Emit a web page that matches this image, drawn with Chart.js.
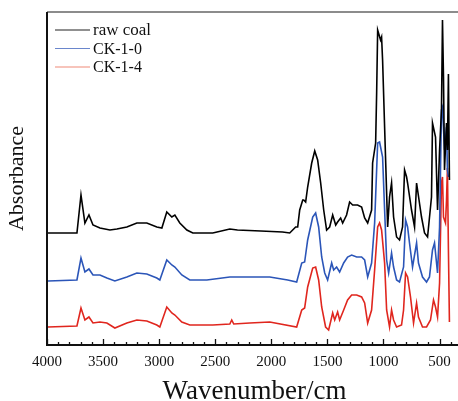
<!DOCTYPE html>
<html>
<head>
<meta charset="utf-8">
<script src="https://cdn.jsdelivr.net/npm/chart.js@4.4.0/dist/chart.umd.min.js"></script>
<style>
  html, body { margin: 0; padding: 0; background: #fff; overflow: hidden; }
  canvas { display: block; }
</style>
</head>
<body>
<canvas id="ftir" width="470" height="401"></canvas>
<script>
// FTIR spectra (absorbance in arbitrary units, offset per curve)
const rawCoalWn = [3991,3733,3697,3662,3626,3590,3528,3439,3377,3288,3199,3110,3021,2976,2932,2887,2860,2816,2753,2700,2638,2522,2370,2302,2094,1900,1836,1783,1765,1747,1720,1711,1694,1676,1640,1613,1587,1560,1533,1507,1480,1453,1426,1409,1382,1364,1329,1302,1275,1231,1195,1168,1141,1106,1097,1070,1061,1052,1026,1017,1008,990,972,963,946,928,910,883,857,830,812,794,785,750,723,705,696,661,634,607,572,563,536,518,500,483,474,465,456,438,430,421,412];
const rawCoalAbs = [112,112,150,122,130,120,117,115,116,118,122,122,118,117,133,128,130,122,115,112,112,112,116,115,114,113,112,118,118,135,145,145,143,158,182,194,185,162,135,115,118,130,120,123,127,122,130,143,140,140,138,127,122,135,182,202,252,315,305,308,285,218,152,118,148,162,128,108,105,118,175,168,162,135,118,162,155,128,112,108,148,222,208,135,195,235,325,268,175,222,195,271,165];

const ck10Wn = [3991,3733,3697,3662,3626,3590,3528,3466,3395,3288,3199,3110,3021,2994,2932,2887,2860,2798,2727,2575,2370,2192,2014,1854,1774,1729,1703,1676,1631,1605,1578,1551,1524,1498,1462,1444,1418,1391,1355,1320,1284,1239,1195,1168,1141,1106,1079,1052,1035,1026,1008,990,972,954,928,910,883,857,821,803,785,768,741,705,688,652,616,590,563,545,518,500,483,474,456,438,430,421];
const ck10Abs = [64,65,87,73,76,70,70,67,64,68,72,71,67,65,85,80,78,70,65,65,68,68,68,65,63,82,83,105,128,132,118,88,72,65,82,75,78,73,82,88,90,88,88,85,68,82,122,202,203,198,188,135,85,72,92,78,65,63,78,125,118,102,78,102,82,68,63,68,95,102,72,118,235,238,195,218,175,168];

const ck14Wn = [3991,3733,3697,3662,3626,3590,3528,3466,3395,3288,3199,3110,3021,2994,2932,2887,2860,2798,2727,2522,2370,2353,2335,2192,2014,1774,1729,1703,1676,1631,1605,1578,1551,1516,1489,1453,1435,1409,1391,1355,1320,1284,1239,1195,1168,1141,1106,1079,1052,1035,1017,990,972,946,928,910,883,839,821,803,785,759,732,705,688,652,616,581,554,536,518,500,483,474,465,447,438,430,421,412];
const ck14Abs = [18,19,37,25,28,22,23,22,17,22,25,24,20,18,38,32,30,23,20,20,21,25,21,22,23,18,35,37,58,77,78,65,38,18,15,32,25,33,25,35,45,50,50,48,42,22,35,75,118,122,115,82,35,18,35,25,18,20,35,72,68,48,22,42,28,18,18,25,45,38,28,62,162,168,128,122,145,177,95,23];

const seriesNames = ["raw coal", "CK-1-0", "CK-1-4"];
const seriesColors = ["#000000", "#2b55b8", "#e0261e"];
const legendColors = ["#222222", "#6a86cc", "#ef8a78"];

const serif = "'Liberation Serif', 'Times New Roman', serif";

function toPoints(xs, ys) {
    return xs.map(function (x, i) { return { x: x, y: ys[i] }; });
}

// frame, inward x ticks and the legend box
const framePlugin = {
    id: "frame",
    afterDraw: function (chart) {
        const ctx = chart.ctx;
        const a = chart.chartArea;
        const xs = chart.scales.x;
        ctx.save();
        // ticks pointing into the plot
        ctx.strokeStyle = "#111";
        ctx.lineWidth = 1.3;
        xs.ticks.forEach(function (t) {
            const px = Math.round(xs.getPixelForValue(t.value)) + 0.5;
            const len = t.value % 500 === 0 ? 6 : 3;
            ctx.beginPath();
            ctx.moveTo(px, a.bottom);
            ctx.lineTo(px, a.bottom - len);
            ctx.stroke();
        });
        // border
        ctx.strokeStyle = "#666";
        ctx.lineWidth = 1.6;
        ctx.beginPath();
        ctx.moveTo(a.left, a.top);
        ctx.lineTo(a.right, a.top);
        ctx.stroke();
        ctx.strokeStyle = "#111";
        ctx.lineWidth = 2;
        ctx.beginPath();
        ctx.moveTo(a.left, a.top);
        ctx.lineTo(a.left, a.bottom);
        ctx.lineTo(a.right, a.bottom);
        ctx.stroke();
        // legend
        ctx.textBaseline = "middle";
        ctx.textAlign = "left";
        seriesNames.forEach(function (name, i) {
            const y = a.top + 18 + i * 18.5;
            ctx.strokeStyle = legendColors[i];
            ctx.lineWidth = 1.2;
            ctx.beginPath();
            ctx.moveTo(a.left + 8, y);
            ctx.lineTo(a.left + 43, y);
            ctx.stroke();
            ctx.fillStyle = "#111";
            ctx.font = (i === 0 ? "17px " : "16px ") + serif;
            ctx.fillText(name, a.left + 46, y + 1);
        });
        ctx.restore();
    }
};

const datasets = [
    toPoints(rawCoalWn, rawCoalAbs),
    toPoints(ck10Wn, ck10Abs),
    toPoints(ck14Wn, ck14Abs)
].map(function (pts, i) {
    return {
        label: seriesNames[i],
        data: pts,
        borderColor: seriesColors[i],
        borderWidth: 1.6,
        pointRadius: 0,
        tension: 0,
        fill: false
    };
});

new Chart(document.getElementById("ftir"), {
    type: "line",
    data: { datasets: datasets },
    options: {
        responsive: false,
        animation: false,
        layout: { padding: { top: 12, right: 7, bottom: 0, left: 0 } },
        plugins: {
            legend: { display: false },
            tooltip: { enabled: false }
        },
        scales: {
            x: {
                type: "linear",
                reverse: true,
                min: 300,
                max: 4000,
                afterFit: function (s) { s.height = 56; },
                grid: { display: false, drawTicks: false },
                border: { display: false },
                ticks: {
                    stepSize: 100,
                    autoSkip: false,
                    maxRotation: 0,
                    padding: 8,
                    color: "#111",
                    font: { family: serif, size: 15 },
                    callback: function (v) { return v % 500 === 0 ? String(v) : ""; }
                },
                title: {
                    display: true,
                    text: "Wavenumber/cm",
                    color: "#111",
                    padding: { top: 0, bottom: 0 },
                    font: { family: serif, size: 27, lineHeight: 0.65 }
                }
            },
            y: {
                min: 0,
                max: 333,
                afterFit: function (s) { s.width = 47; },
                grid: { display: false },
                border: { display: false },
                ticks: { display: false },
                title: {
                    display: true,
                    text: "Absorbance",
                    color: "#111",
                    padding: { top: 6, bottom: 0 },
                    font: { family: serif, size: 22, lineHeight: 1 }
                }
            }
        }
    },
    plugins: [framePlugin]
});
</script>
</body>
</html>
